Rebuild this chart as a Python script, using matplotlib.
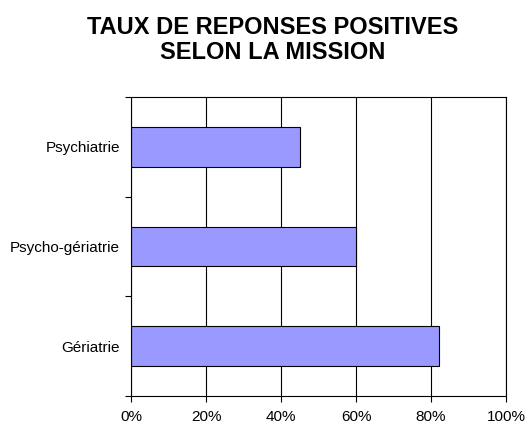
import matplotlib
matplotlib.use('Agg')
import matplotlib.pyplot as plt
from matplotlib.ticker import FixedLocator, PercentFormatter

# data
missions = ['Gériatrie', 'Psycho-gériatrie', 'Psychiatrie']
taux = [82, 60, 45]
x_ticks = [0, 20, 40, 60, 80, 100]

plt.rcParams['font.family'] = ['Liberation Sans', 'DejaVu Sans']

fig = plt.figure(figsize=(5.31, 4.32), dpi=100)
ax = fig.add_axes([131 / 531, 1 - 396 / 432, 375 / 531, 299 / 432])

ax.barh(range(len(missions)), taux, height=0.4, color='#9999FF',
        edgecolor='black', linewidth=0.8, zorder=3)

ax.set_xlim(0, 100)
ax.set_ylim(-0.5, len(missions) - 0.5)

ax.set_xticks(x_ticks)
ax.xaxis.set_major_formatter(PercentFormatter(decimals=0))
ax.grid(axis='x', color='black', linewidth=0.8, zorder=0)
ax.tick_params(axis='x', direction='out', length=4, width=0.8, pad=6,
               labelsize=11)

# labels at category centres, tick marks at category boundaries
ax.set_yticks(range(len(missions)))
ax.set_yticklabels(missions)
ax.yaxis.set_minor_locator(FixedLocator([i - 0.5 for i in range(len(missions) + 1)]))
ax.tick_params(axis='y', which='major', length=0, pad=8, labelsize=11)
ax.tick_params(axis='y', which='minor', direction='out', length=4, width=0.8)

for s in ax.spines.values():
    s.set_linewidth(0.8)
    s.set_color('black')
    s.set_zorder(4)

fig.text(273 / 531, 1 - 40 / 432, 'TAUX DE REPONSES POSITIVES\nSELON LA MISSION',
         ha='center', va='center', fontsize=17, fontweight='bold',
         linespacing=1.15)

fig.savefig('out.png', dpi=100)
